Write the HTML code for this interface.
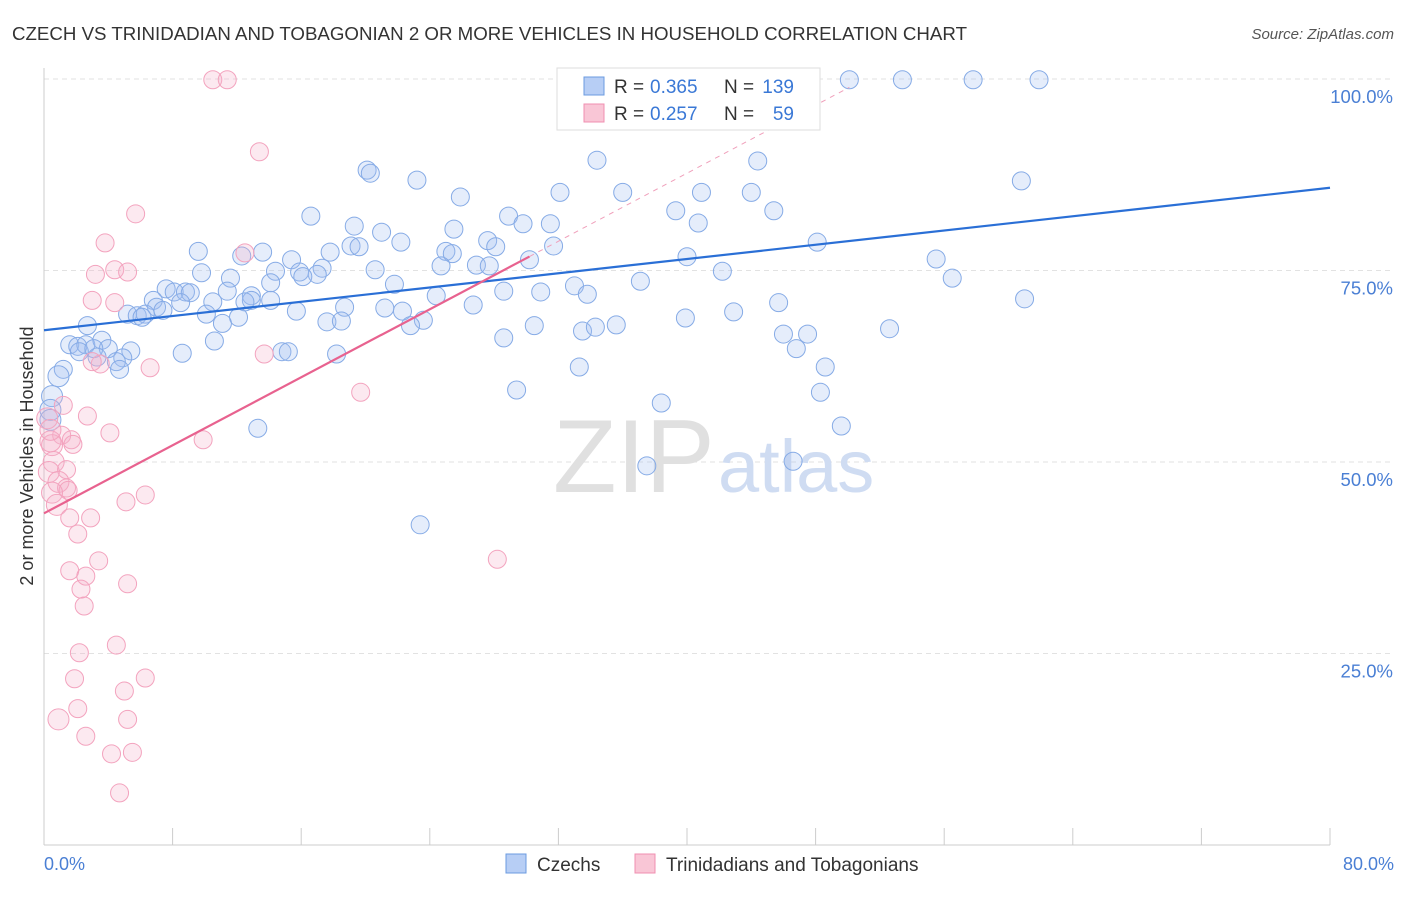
<!DOCTYPE html>
<html><head><meta charset="utf-8">
<style>
body{margin:0;background:#fff;font-family:"Liberation Sans",sans-serif;}
svg text{font-family:"Liberation Sans",sans-serif;}
</style></head>
<body>
<svg id="chart" width="1406" height="892" viewBox="0 0 1406 892" xmlns="http://www.w3.org/2000/svg">
<text x="12" y="40" font-size="18.5" fill="#333" textLength="955" lengthAdjust="spacingAndGlyphs">CZECH VS TRINIDADIAN AND TOBAGONIAN 2 OR MORE VEHICLES IN HOUSEHOLD CORRELATION CHART</text>
<text x="1394" y="39" font-size="15" fill="#555" font-style="italic" text-anchor="end">Source: ZipAtlas.com</text>
<g id="grid"></g>
<g id="axes"></g>
<text x="553" y="492" font-size="104" fill="#e0e0e0" font-family="Liberation Serif">ZIP</text>
<text x="718" y="492" font-size="74" fill="#cfdcf2">atlas</text>
<g id="pts"></g>
<g id="trend"></g>
<text transform="translate(33,456) rotate(-90)" font-size="18" fill="#333" text-anchor="middle">2 or more Vehicles in Household</text>
<g>
<rect x="557" y="68" width="263" height="62" fill="#fff" stroke="#ddd"/>
<rect x="584" y="77" width="20" height="18" fill="#b7cef5" stroke="#6b9be0"/>
<rect x="584" y="104" width="20" height="18" fill="#f9c6d6" stroke="#f08fb0"/>
<text x="614" y="93" font-size="19" fill="#333">R =</text>
<text x="650" y="93" font-size="19" fill="#3a78d6">0.365</text>
<text x="724" y="93" font-size="19" fill="#333">N =</text>
<text x="794" y="93" font-size="19" fill="#3a78d6" text-anchor="end">139</text>
<text x="614" y="120" font-size="19" fill="#333">R =</text>
<text x="650" y="120" font-size="19" fill="#3a78d6">0.257</text>
<text x="724" y="120" font-size="19" fill="#333">N =</text>
<text x="794" y="120" font-size="19" fill="#3a78d6" text-anchor="end">59</text>
</g>
<g>
<rect x="506" y="854" width="20" height="19" fill="#b7cef5" stroke="#6b9be0"/>
<text x="537" y="871" font-size="19" fill="#333">Czechs</text>
<rect x="635" y="854" width="20" height="19" fill="#f9c6d6" stroke="#f08fb0"/>
<text x="666" y="871" font-size="19" fill="#333">Trinidadians and Tobagonians</text>
</g>
</svg>
<script>
const blueX=[36.1,41.6,50.1,53.4,57.8,61.9,34.4,44.4,20.1,20.3,23.2,60.8,25.9,32.1,36.0,40.9,44.0,16.6,28.9,39.3,45.4,19.3,21.0,29.8,31.5,40.7,9.6,13.6,12.3,22.2,25.5,27.6,25.0,25.4,28.1,48.1,19.1,19.6,17.8,15.4,14.4,15.9,17.3,17.0,16.1,20.6,24.7,26.9,27.7,30.2,31.7,40.0,42.2,55.5,9.8,11.6,14.1,21.8,7.6,8.1,8.8,9.1,11.4,10.5,12.9,14.1,12.9,12.5,33.0,33.8,24.4,30.9,28.6,37.1,56.5,61.0,6.8,8.5,7.0,7.4,5.2,5.8,6.3,6.1,10.1,12.1,15.7,18.7,21.2,22.3,23.6,26.7,42.9,45.7,39.9,11.1,17.6,18.5,22.8,30.5,33.5,34.3,35.6,2.7,10.6,28.6,46.0,47.5,52.6,1.6,2.1,2.6,3.6,4.0,2.2,3.1,5.4,8.6,14.8,15.2,18.2,46.8,3.3,4.9,4.5,4.7,33.3,48.6,1.2,0.9,29.4,48.3,38.4,0.5,0.4,13.3,49.6,37.5,46.6,23.4,0.4];
const blueY=[99.9,99.9,99.9,99.9,99.9,99.9,89.4,89.3,88.1,87.7,86.8,86.7,84.6,85.2,85.2,85.2,85.2,82.1,82.1,82.8,82.8,80.8,80.0,81.1,81.1,81.2,77.5,77.4,76.9,78.7,80.4,78.9,77.5,77.2,78.1,78.7,78.2,78.1,77.4,76.4,74.9,74.8,75.3,74.5,74.2,75.1,75.6,75.7,75.6,76.4,78.2,76.8,74.9,76.5,74.7,74.0,73.4,73.2,72.6,72.2,72.2,72.1,72.3,70.9,71.7,71.1,71.1,70.9,73.0,71.9,71.7,72.2,72.3,73.6,74.0,71.3,71.1,70.8,70.2,69.8,69.3,69.1,69.3,68.9,69.3,68.9,69.7,70.2,70.1,69.7,68.5,70.5,69.6,70.8,68.8,68.1,68.3,68.4,67.8,67.8,67.1,67.6,67.9,67.8,65.8,66.2,66.7,66.7,67.4,65.3,65.1,65.3,65.9,64.8,64.4,64.8,64.5,64.2,64.4,64.4,64.1,64.8,63.7,63.6,63.1,62.1,62.4,62.4,62.1,61.2,59.4,59.1,57.7,58.6,56.8,54.4,54.7,49.5,50.1,41.8,55.5];
const pinkX=[10.5,11.4,13.4,5.7,3.8,3.2,4.4,5.2,3.0,4.4,12.5,13.7,3.5,3.0,6.6,19.7,1.2,2.7,0.2,4.1,1.1,1.7,1.8,9.9,0.5,0.6,1.4,0.3,0.9,1.4,1.5,0.5,6.3,5.1,0.8,1.6,2.9,2.1,3.4,1.6,2.6,5.2,2.3,2.5,28.2,4.5,2.2,1.9,6.3,5.0,2.1,0.9,5.2,2.6,4.2,5.5,4.7,0.4,0.4];
const pinkY=[99.9,99.9,90.5,82.4,78.6,74.5,75.1,74.8,71.1,70.8,77.3,64.1,62.8,63.1,62.3,59.1,57.4,56.0,55.7,53.8,53.5,52.9,52.3,52.9,52.2,50.0,49.0,48.7,47.4,46.6,46.3,46.0,45.7,44.8,44.4,42.7,42.7,40.6,37.1,35.8,35.1,34.1,33.4,31.2,37.3,26.1,25.1,21.7,21.8,20.1,17.8,16.4,16.4,14.2,11.9,12.1,6.8,52.7,54.2];
const blueTrend=[67.2,85.8];      // y at x=0 and x=80
const pinkTrend=[43.3,1.11];      // intercept, slope
const pinkSolidEnd=30.2, pinkDashEnd=50.1;
const yTicks=[25,50,75,100];
const xTickCount=11;

const X=v=>44+v/80*1286, Y=v=>845-v/100*766;
const NS="http://www.w3.org/2000/svg";
function mk(tag,attrs,parent){const e=document.createElementNS(NS,tag);for(const k in attrs)e.setAttribute(k,attrs[k]);parent.appendChild(e);return e;}
const grid=document.getElementById('grid'),axes=document.getElementById('axes'),pts=document.getElementById('pts'),trend=document.getElementById('trend');
yTicks.forEach(t=>{
  const l=mk('line',{x1:44,x2:1394,y1:Y(t),y2:Y(t),stroke:'#e2e2e2','stroke-dasharray':'5,4'},grid);
  
  
  const tx=mk('text',{x:1393,y:Y(t)+24,'font-size':18.5,fill:'#4a7fd4','text-anchor':'end'},axes);
  tx.textContent=t.toFixed(1)+'%';
  
  
});
const xa=mk('line',{x1:44,x2:1330,y1:845,y2:845,stroke:'#ccc'},axes);


const ya=mk('line',{x1:44,x2:44,y1:68,y2:845,stroke:'#ccc'},axes);


for(let i=0;i<xTickCount;i++){
  const v=i*8;
  const tk=mk('line',{x1:X(v),x2:X(v),y1:828,y2:845,stroke:'#ccc'},axes);
  
  
}
const xl0=mk('text',{x:44,y:870,'font-size':18,fill:'#4a7fd4'},axes);xl0.textContent='0.0%';


const xl1=mk('text',{x:1394,y:870,'font-size':18,fill:'#4a7fd4','text-anchor':'end'},axes);xl1.textContent='80.0%';


function dots(xs,ys,fill,stroke,name){
  xs.forEach((x,i)=>{
    const c=mk('circle',{cx:X(x),cy:Y(ys[i]),r:x<1?10.5:9,fill:fill,stroke:stroke,'stroke-width':1},pts);
    
    
  });
}
dots(blueX,blueY,'rgba(160,192,240,0.28)','#86abe6','point-czech');
dots(pinkX,pinkY,'rgba(246,175,200,0.28)','#f3a3be','point-trinidadian');
const bl=mk('line',{x1:X(0),y1:Y(blueTrend[0]),x2:X(80),y2:Y(blueTrend[1]),stroke:'#2a6fd6','stroke-width':2.2},trend);


const pf=x=>pinkTrend[0]+pinkTrend[1]*x;
const pd=mk('line',{x1:X(pinkSolidEnd),y1:Y(pf(pinkSolidEnd)),x2:X(pinkDashEnd),y2:Y(pf(pinkDashEnd)),stroke:'#f0a0bb','stroke-width':1,'stroke-dasharray':'5,5'},trend);


const pl=mk('line',{x1:X(0),y1:Y(pf(0)),x2:X(pinkSolidEnd),y2:Y(pf(pinkSolidEnd)),stroke:'#e8628f','stroke-width':2.2},trend);


</script>
</body></html>
